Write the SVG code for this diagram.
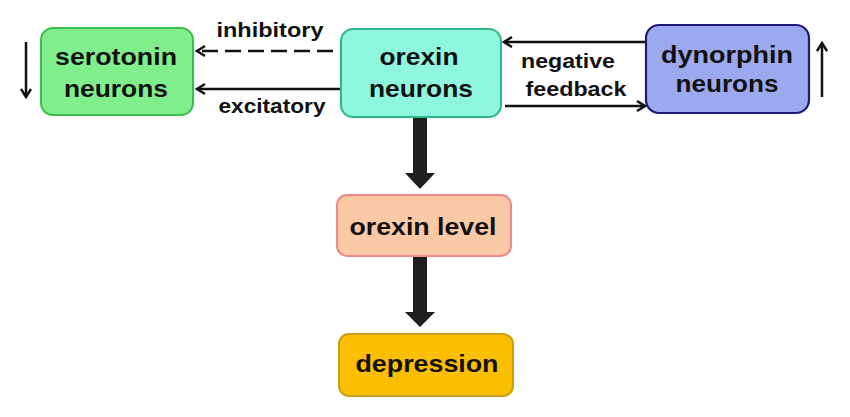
<svg xmlns="http://www.w3.org/2000/svg" width="850" height="417" viewBox="0 0 850 417">
<defs>
<marker id="open" viewBox="0 0 12 12" refX="10" refY="6" markerWidth="12" markerHeight="12" markerUnits="userSpaceOnUse" orient="auto">
<polyline points="2,1 10,6 2,11" fill="none" stroke="#111" stroke-width="2.4"/>
</marker>
</defs>
<style>
.t{font-family:"Liberation Sans",Arial,sans-serif;font-weight:bold;fill:#111;text-anchor:middle}
.big{font-size:24px}
.sm{font-size:20px}
.ln{stroke:#111;stroke-width:2.5;fill:none}
.th{fill:#1e1e1e}
</style>
<rect width="850" height="417" fill="#fff"/>
<g id="connectors">
<line class="ln" x1="333" y1="51" x2="197" y2="51" stroke-dasharray="16,7" marker-end="url(#open)"/>
<line class="ln" x1="340" y1="89" x2="197" y2="89" marker-end="url(#open)"/>
<line class="ln" x1="646" y1="42" x2="504" y2="42" marker-end="url(#open)"/>
<line class="ln" x1="505" y1="106" x2="645" y2="106" marker-end="url(#open)"/>
<line class="ln" x1="26" y1="42" x2="26" y2="97" marker-end="url(#open)"/>
<line class="ln" x1="822" y1="97" x2="822" y2="43" marker-end="url(#open)"/>
<polygon class="th" points="413,117 427,117 427,173 435,173 420,189 405,173 413,173"/>
<polygon class="th" points="413,256 427,256 427,312 435,312 420,327 405,312 413,312"/>
<text class="t sm" x="270" y="37" textLength="107" lengthAdjust="spacingAndGlyphs">inhibitory</text>
<text class="t sm" x="272" y="113" textLength="107" lengthAdjust="spacingAndGlyphs">excitatory</text>
<text class="t sm" x="568" y="68" textLength="94" lengthAdjust="spacingAndGlyphs">negative</text>
<text class="t sm" x="576" y="96" textLength="101" lengthAdjust="spacingAndGlyphs">feedback</text>
</g>
<g id="serotonin">
<rect x="41" y="28" width="152" height="87" rx="12" fill="#80ee8c" stroke="#3cbf4a" stroke-width="2"/>
<text class="t big" x="116" y="65" textLength="122" lengthAdjust="spacingAndGlyphs">serotonin</text>
<text class="t big" x="116" y="97" textLength="104" lengthAdjust="spacingAndGlyphs">neurons</text>
</g>
<g id="orexin-neurons">
<rect x="341" y="29" width="160" height="88" rx="12" fill="#8ef7de" stroke="#2eb88a" stroke-width="2"/>
<text class="t big" x="419" y="65" textLength="79" lengthAdjust="spacingAndGlyphs">orexin</text>
<text class="t big" x="421" y="97" textLength="104" lengthAdjust="spacingAndGlyphs">neurons</text>
</g>
<g id="dynorphin">
<rect x="646" y="25" width="163" height="88" rx="13" fill="#9ca9ef" stroke="#1c1c78" stroke-width="2.2"/>
<text class="t big" x="727" y="63" textLength="132" lengthAdjust="spacingAndGlyphs">dynorphin</text>
<text class="t big" x="727" y="92" textLength="103" lengthAdjust="spacingAndGlyphs">neurons</text>
</g>
<g id="orexin-level">
<rect x="337" y="195" width="174" height="61" rx="10" fill="#fcc9a6" stroke="#f08a8a" stroke-width="2"/>
<text class="t big" x="423" y="235" textLength="147" lengthAdjust="spacingAndGlyphs">orexin level</text>
</g>
<g id="depression">
<rect x="339" y="334" width="174" height="62" rx="10" fill="#fbbe00" stroke="#c9a010" stroke-width="2"/>
<text class="t big" x="427" y="372" textLength="143" lengthAdjust="spacingAndGlyphs">depression</text>
</g>
</svg>
